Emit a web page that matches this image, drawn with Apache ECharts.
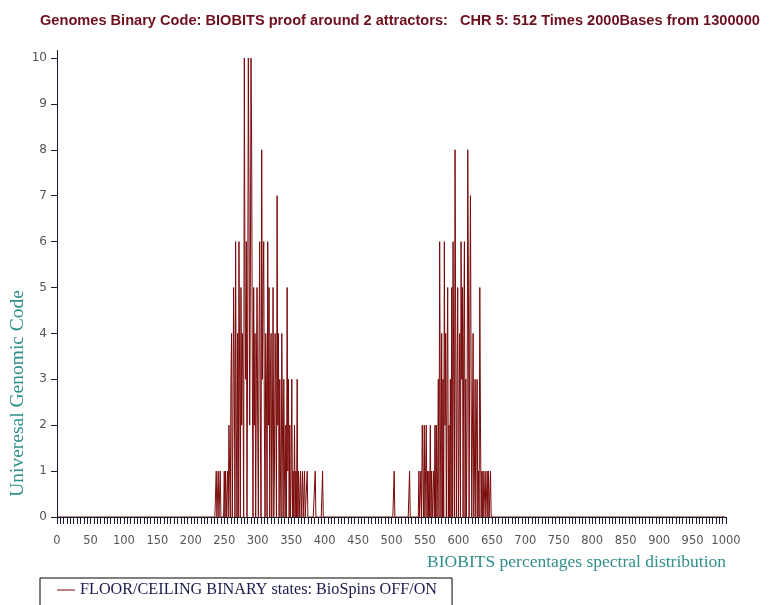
<!DOCTYPE html>
<html>
<head>
<meta charset="utf-8">
<script src="https://cdn.jsdelivr.net/npm/echarts@6/dist/echarts.min.js"></script>
<style>html,body{margin:0;padding:0;background:#fff}#c{width:770px;height:605px}</style>
</head>
<body>
<div id="c"></div>
<script>
// Histogram bins (BIOBITS percentage) and counts
var cluster1X = [238,241,244,250,252,255,257,258,260,261,263,264,265,267,268,270,272,273,275,276,277,278,280,281,282,283,285,286,287,288,289,290,291,292,294,295,296,298,299,300,302,303,304,306,307,308,309,310,312,313,315,316,317,319,320,322,323,325,326,327,329,330,331,333,334,336,337,339,340,342,344,345,346,348,350,351,353,355,357,359,361,364,367,370,374,386,397];
var cluster1Y = [1,1,1,1,1,1,2,1,3,4,2,5,3,6,2,4,6,3,5,2,4,3,10,5,3,6,4,10,7,2,5,10,8,3,5,2,4,3,5,2,4,6,2,8,3,5,6,2,4,3,6,2,5,3,4,2,5,1,4,3,7,2,4,3,1,4,2,3,1,2,5,1,3,2,1,3,1,2,1,3,1,1,1,1,1,1,1];
var cluster2X = [504,527,541,544,546,547,549,551,552,554,556,558,560,563,565,567,569,570,572,573,575,577,579,580,581,583,584,586,588,590,592,593,595,596,598,599,601,602,604,605,606,608,609,611,613,614,615,617,618,619,621,622,624,625,627,628,630,632,633,635,637,640,643,645,648];
var cluster2Y = [1,1,1,1,2,1,2,1,2,1,1,2,1,1,2,2,1,3,6,2,4,3,6,2,4,3,5,2,3,5,6,3,8,4,3,5,2,4,6,3,5,4,6,3,2,8,5,4,7,3,2,4,1,3,2,3,1,5,2,1,1,1,1,1,1];
var xMin = 0, xMax = 1000;

var counts = {};
cluster1X.forEach(function(x,i){counts[x]=cluster1Y[i];});
cluster2X.forEach(function(x,i){counts[x]=cluster2Y[i];});
var data = [];
for (var b = xMin; b <= xMax; b++) data.push([b, counts[b] || 0]);

var chart = echarts.init(document.getElementById('c'), null, {renderer:'canvas'});
chart.setOption({
  backgroundColor:'#ffffff',
  animation:false,
  title:{
    text:'Genomes Binary Code: BIOBITS proof around 2 attractors:   CHR 5: 512 Times 2000Bases from 1300000',
    left:35, top:8,
    textStyle:{fontFamily:'Liberation Sans, Arial, sans-serif', fontSize:14.6, fontWeight:'bold', color:'#6e0f1c'}
  },
  grid:{left:57, right:44, top:58, bottom:88, containLabel:false},
  legend:{
    left:40, top:578,
    padding:[4,15,30,17],
    borderColor:'#000', borderWidth:1,
    icon:'rect', itemWidth:18, itemHeight:1,
    itemGap:8,
    textStyle:{fontFamily:'Liberation Serif, Times New Roman, serif', fontSize:16.2, color:'#1c1c4e'},
    data:['FLOOR/CEILING BINARY states: BioSpins OFF/ON']
  },
  xAxis:{
    type:'value', min:xMin, max:xMax, interval:50, z:5,
    name:'BIOBITS percentages spectral distribution',
    nameLocation:'end', nameGap:0,
    nameTextStyle:{fontFamily:'Liberation Serif, Times New Roman, serif', fontSize:17.5, color:'#2f8f8a', align:'right', verticalAlign:'top', padding:[36,0,0,0]},
    axisLine:{show:true, onZero:false, lineStyle:{color:'#1a1a2e', width:1}},
    axisTick:{show:true, length:7, lineStyle:{color:'#1a1a2e'}},
    minorTick:{show:true, splitNumber:10, length:7, lineStyle:{color:'#1a1a2e'}},
    axisLabel:{fontFamily:'DejaVu Sans, sans-serif', fontSize:11.5, color:'#555', margin:18, formatter:function(v){return String(v);}},
    splitLine:{show:false}
  },
  yAxis:{
    type:'value', min:0, max:10, interval:1, z:5,
    axisLine:{show:true, lineStyle:{color:'#1a1a2e', width:1}},
    axisTick:{show:true, length:6, lineStyle:{color:'#1a1a2e'}},
    axisLabel:{fontFamily:'DejaVu Sans, sans-serif', fontSize:12, color:'#555', margin:10},
    splitLine:{show:false}
  },
  graphic:[{
    type:'text', left:8, top:290, rotation:Math.PI/2,
    style:{text:'Univeresal Genomic Code', font:'19.5px "Liberation Serif", serif', fill:'#2f8f8a'}
  },{
    type:'line', shape:{x1:57.5, y1:50, x2:57.5, y2:58}, style:{stroke:'#1a1a2e', lineWidth:1}
  }],
  series:[{
    name:'FLOOR/CEILING BINARY states: BioSpins OFF/ON',
    type:'line', data:data, showSymbol:false, symbol:'none', z:2,
    lineStyle:{color:'#7a0a0a', width:1},
    itemStyle:{color:'#7a0a0a'}
  }]
});
</script>
</body>
</html>
